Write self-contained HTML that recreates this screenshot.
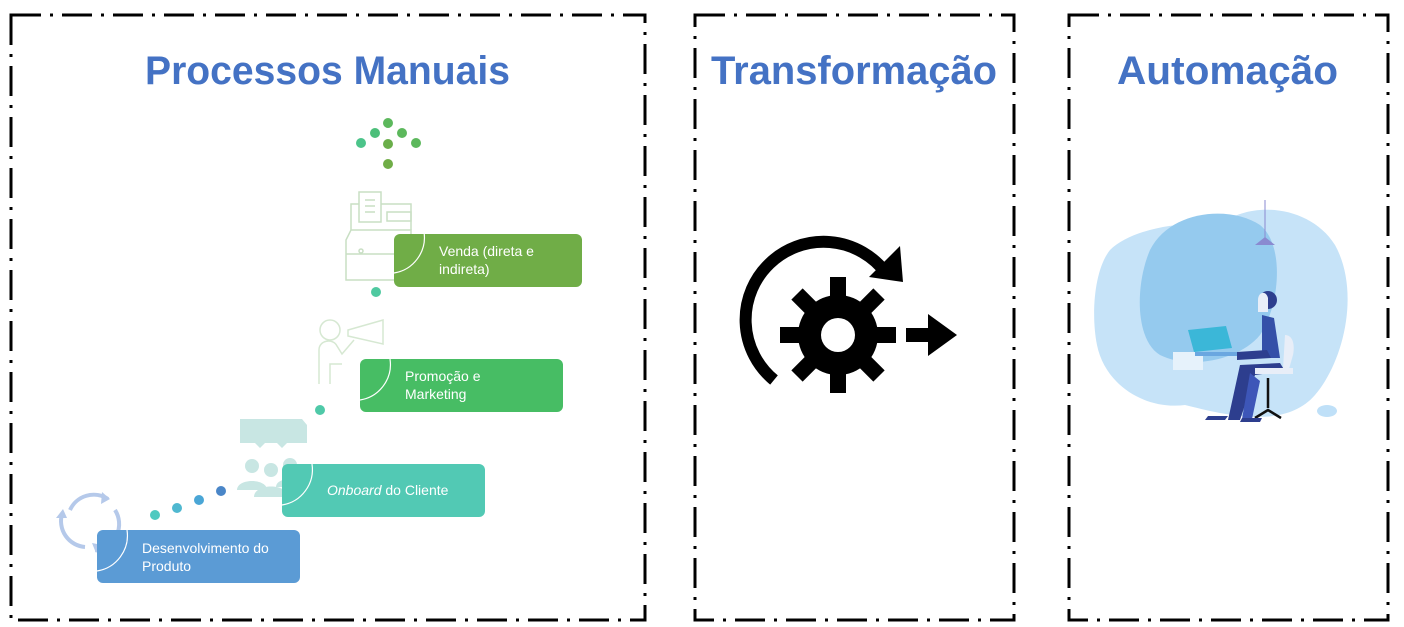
<!DOCTYPE html>
<html><head><meta charset="utf-8"><style>
html,body{margin:0;padding:0;background:#fff;}
svg{display:block;font-family:"Liberation Sans",sans-serif;}
</style></head><body>
<svg width="1404" height="627" viewBox="0 0 1404 627" xmlns="http://www.w3.org/2000/svg">
<g fill="none" stroke="#000" stroke-width="3" stroke-dasharray="30 9 3 9">
<rect x="11" y="15" width="634" height="605"/>
<rect x="695" y="15" width="319" height="605"/>
<rect x="1069" y="15" width="319" height="605"/>
</g>
<g fill="#4472C4" font-weight="bold" font-size="40">
<text x="145" y="84" textLength="365" lengthAdjust="spacingAndGlyphs">Processos Manuais</text>
<text x="711" y="84" textLength="286" lengthAdjust="spacingAndGlyphs">Transformação</text>
<text x="1117" y="84" textLength="221" lengthAdjust="spacingAndGlyphs">Automação</text>
</g>
<g fill="#5CB85C">
<circle cx="388" cy="123" r="5"/><circle cx="375" cy="133" r="5" fill="#4CBF7A"/><circle cx="402" cy="133" r="5"/>
<circle cx="361" cy="143" r="5" fill="#4CC48A"/><circle cx="388" cy="144" r="5" fill="#6AAE4A"/><circle cx="416" cy="143" r="5"/>
<circle cx="388" cy="164" r="5" fill="#70AD47"/>
</g>
<g fill="none" stroke="#C9DFC4" stroke-width="1.5">
<rect x="359" y="192" width="22" height="30"/>
<path d="M365 200h10M365 206h10M365 212h10"/>
<rect x="387" y="212" width="24" height="9"/>
<path d="M351 230v-26h8M381 204h30v26"/>
<path d="M346 240l5-10h60v50h-65z"/>
<path d="M346 254h65"/>
<circle cx="361" cy="251" r="2"/>
</g>
<g fill="none" stroke="#D6E8D2" stroke-width="1.5">
<circle cx="330" cy="330" r="10"/>
<path d="M348 330l35-10v24l-35-8z"/>
<path d="M319 384v-34c0-10 14-12 18-4l5 8 12-14M330 384v-20l12 0"/>
</g>
<g fill="#C8E6E3">
<path d="M240 419h62l5 6v18l-20 0-5 5-5-5-12 0-5 5-5-5h-15z"/>
<circle cx="252" cy="466" r="7"/><circle cx="271" cy="470" r="7"/><circle cx="290" cy="465" r="7"/>
<path d="M237 490c0-12 30-12 30 0z"/><path d="M254 497c0-14 34-14 34 0z"/><path d="M276 487c0-11 30-11 30 0z"/>
</g>
<g fill="none" stroke="#B5C9EA" stroke-width="4">
<path d="M70 510a26 26 0 0 1 38-11"/>
<path d="M115 510a26 26 0 0 1-20 40"/>
<path d="M85 547a26 26 0 0 1-23-33"/>
</g>
<g fill="#B5C9EA">
<path d="M102 492l8 7-9 5z"/><path d="M92 543l4 10 6-8z"/><path d="M56 518l7-9 4 9z"/>
</g>
<circle cx="155" cy="515" r="5" fill="#4FC9C0"/>
<circle cx="177" cy="508" r="5" fill="#4FB8D0"/>
<circle cx="199" cy="500" r="5" fill="#4AA6D6"/>
<circle cx="221" cy="491" r="5" fill="#4A86C8"/>
<circle cx="320" cy="410" r="5" fill="#4FC9A8"/>
<circle cx="376" cy="292" r="5" fill="#4FC9A0"/>
<rect x="97" y="530" width="203" height="53" rx="6" fill="#5B9BD5"/>
<rect x="282" y="464" width="203" height="53" rx="6" fill="#52C9B4"/>
<rect x="360" y="359" width="203" height="53" rx="6" fill="#47BD64"/>
<rect x="394" y="234" width="188" height="53" rx="6" fill="#70AD47"/>
<g fill="none" stroke="#fff" stroke-width="1.2">
<path d="M97 571a36 36 0 0 0 30-41"/>
<path d="M282 505a36 36 0 0 0 30-41"/>
<path d="M360 400a36 36 0 0 0 30-41"/>
<path d="M394 273a36 36 0 0 0 30-41"/>
</g>
<g fill="#fff" font-size="14">
<text x="142" y="553">Desenvolvimento do</text><text x="142" y="571">Produto</text>
<text x="327" y="495"><tspan font-style="italic">Onboard</tspan> do Cliente</text>
<text x="405" y="381">Promoção e</text><text x="405" y="399">Marketing</text>
<text x="439" y="256">Venda (direta e</text><text x="439" y="274">indireta)</text>
</g>
<path d="M774 380A78 78 0 1 1 886 273" fill="none" stroke="#000" stroke-width="12"/>
<path d="M900 246l3 36-34-5z" fill="#000"/>
<g fill="#000" transform="translate(838,335)">
<circle r="40"/>
<rect x="-8" y="-58" width="16" height="116"/>
<rect x="-8" y="-58" width="16" height="116" transform="rotate(45)"/>
<rect x="-8" y="-58" width="16" height="116" transform="rotate(90)"/>
<rect x="-8" y="-58" width="16" height="116" transform="rotate(135)"/>
<circle r="17" fill="#fff"/>
</g>
<path d="M906 328h22v-14l29 21-29 21v-14h-22z" fill="#000"/>
<path d="M1110 250c20-20 70-30 110-25c30-25 90-20 115 20c25 45 10 115-20 150c-30 35-90 20-130 10c-40 5-80-20-88-60c-6-30-3-75 13-95z" fill="#C6E3F8"/>
<path d="M1150 250c20-40 80-45 110-25c25 20 20 80 0 110c-20 25-70 35-100 20c-25-15-25-70-10-105z" fill="#95CAEE"/>
<line x1="1265" y1="200" x2="1265" y2="238" stroke="#8A8AD0" stroke-width="1"/>
<path d="M1255 245l10-8 10 8z" fill="#8A8AD0"/>
<ellipse cx="1327" cy="411" rx="10" ry="6" fill="#BFE0F8"/>
<rect x="1173" y="352" width="30" height="18" fill="#E6F2FB"/>
<path d="M1188 330l38-4 6 22-38 4z" fill="#3BB7D8"/>
<path d="M1195 352h42v4h-42z" fill="#6AA7E0"/>
<circle cx="1268" cy="300" r="9" fill="#2D3E8E"/>
<path d="M1258 300c0-8 8-10 10-2v14h-10z" fill="#E8EEF8"/>
<path d="M1262 315l12 3 6 40-18 0z" fill="#3450A8"/>
<path d="M1237 352l30-2 4 8-34 2z" fill="#2D3E8E"/>
<path d="M1240 365l40-2 5 8-30 4-15 45h-12z" fill="#2D3E8E"/>
<path d="M1250 373l10 8-8 38h-10z" fill="#3D56B8"/>
<rect x="1255" y="368" width="38" height="6" fill="#E8EEF8"/>
<path d="M1285 335c8 0 10 10 8 20l-4 14h-6z" fill="#E8EEF8"/>
<path d="M1268 378v30M1255 418l13-8 13 8" stroke="#111" stroke-width="2.5" fill="none"/>
<path d="M1205 420h20l3-4h-20zM1240 422h20l2-4h-20z" fill="#2D3E8E"/>
</svg>
</body></html>
